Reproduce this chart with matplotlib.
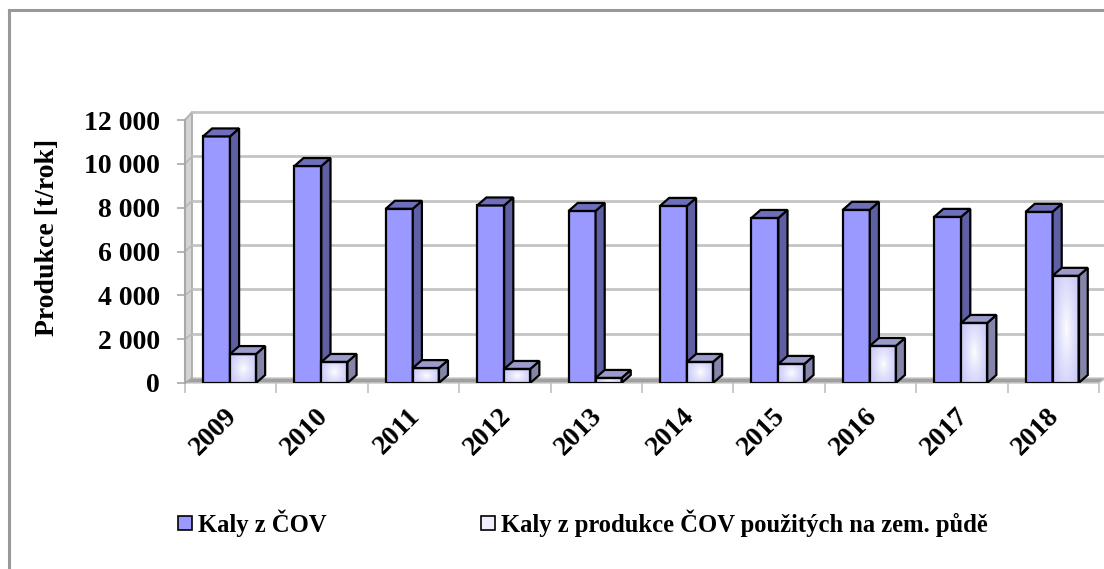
import matplotlib.pyplot as plt
from matplotlib.patches import Polygon, Rectangle, Patch
from matplotlib.lines import Line2D
import numpy as np

# data
years = ['2009', '2010', '2011', '2012', '2013', '2014', '2015', '2016', '2017', '2018']
kaly_cov = [11250, 9900, 7950, 8100, 7850, 8080, 7530, 7900, 7580, 7810]
kaly_puda = [1320, 960, 680, 640, 230, 960, 870, 1690, 2740, 4890]
y_ticks = [0, 2000, 4000, 6000, 8000, 10000, 12000]
y_tick_labels = ['0', '2 000', '4 000', '6 000', '8 000', '10 000', '12 000']
series_names = ['Kaly z ČOV', 'Kaly z produkce ČOV použitých na zem. půdě']

plt.rcParams['font.family'] = ['Liberation Serif', 'DejaVu Serif']
plt.rcParams['font.weight'] = 'bold'
FS = 20
FS_LEG = 17.7

fig = plt.figure(figsize=(11.04, 5.69), dpi=100)
ax = fig.add_axes([185 / 1104, 186 / 569, 914 / 1104, 263 / 569])
ax.set_xlim(0, len(years))
ax.set_ylim(0, 12000)
for s in ax.spines.values():
    s.set_visible(False)

# 3D look: wall depth and bar depth (data units)
WDX, WDY, WK = 0.077, 228, 1.011
BDX, BDY = 0.1, 365


def back(v):
    return v * WK + WDY


nx = len(years)
# floor
ax.add_patch(Polygon([(0, 0), (nx, 0), (nx + WDX, back(0)), (WDX, back(0))],
                     closed=True, fc='#A0A0A0', ec='#C8C8C8', lw=1, clip_on=False, zorder=1))
# left wall
ax.add_patch(Polygon([(0, 0), (WDX, back(0)), (WDX, back(12000)), (0, 12000)],
                     closed=True, fc='#D4D4D4', ec='#A8A8A8', lw=1.2, clip_on=False, zorder=1))
# gridlines on back wall + wall
for v in y_ticks[1:]:
    ax.plot([WDX, nx + WDX + 0.1], [back(v), back(v)], color='#C4C4C4', lw=2,
            clip_on=False, zorder=1)
    ax.plot([0, WDX], [v, back(v)], color='#B8B8B8', lw=1.2, clip_on=False, zorder=1)
ax.plot([0, 0], [0, 12000], color='#A8A8A8', lw=1.5, clip_on=False, zorder=2)

# gradient image for the light bars
gx = np.linspace(-1, 1, 60)
gy = np.linspace(-1, 1, 120)
GX, GY = np.meshgrid(gx, gy)
r = np.clip(np.sqrt(GX ** 2 + (GY * 0.75) ** 2), 0, 1)
c0 = np.array([1.0, 1.0, 1.0])
c1 = np.array([0.80, 0.80, 0.98])
grad = c0 + (c1 - c0) * r[..., None] ** 0.8


def bar3d(x0, w, h, front, top, side, z, gradient=False):
    if gradient:
        ax.imshow(grad, extent=[x0, x0 + w, 0, h], aspect='auto', zorder=z,
                  interpolation='bilinear')
        ax.add_patch(Rectangle((x0, 0), w, h, fc='none', ec='black', lw=1.6, zorder=z + 0.1))
    else:
        ax.add_patch(Rectangle((x0, 0), w, h, fc=front, ec='black', lw=1.6, zorder=z))
    ax.add_patch(Polygon([(x0 + w, 0), (x0 + w + BDX, BDY), (x0 + w + BDX, h + BDY), (x0 + w, h)],
                         closed=True, fc=side, ec='black', lw=1.6, zorder=z))
    ax.add_patch(Polygon([(x0, h), (x0 + BDX, h + BDY), (x0 + w + BDX, h + BDY), (x0 + w, h)],
                         closed=True, fc=top, ec='black', lw=1.6, zorder=z, clip_on=False))


for i in range(nx):
    bar3d(i + 0.197, 0.295, kaly_cov[i], '#9999FF', '#6E6EBA', '#5F5FA3', 3 + i)
    bar3d(i + 0.492, 0.285, kaly_puda[i], '#E8E8FF', '#9C9CCC', '#8585AA', 3.5 + i, gradient=True)

ax.set_xlim(0, nx)
ax.set_ylim(0, 12000)

# axes ticks
ax.set_yticks(y_ticks, labels=y_tick_labels)
ax.tick_params(axis='y', length=6, width=1.2, color='#A8A8A8', pad=12, labelsize=FS)
ax.set_xticks(range(nx + 1), labels=[''] * (nx + 1))
ax.tick_params(axis='x', which='major', length=7, width=1.2, color='#C0C0C0')
ax.set_xticks(np.arange(nx) + 0.43, labels=years, minor=True)
ax.tick_params(axis='x', which='minor', length=0, pad=15, labelsize=FS)
for lab in ax.get_xticklabels(minor=True):
    lab.set_rotation(45)
    lab.set_ha('right')
    lab.set_va('top')
    lab.set_rotation_mode('anchor')

fig.text(48 / 1104, 1 - 237 / 569, 'Produkce [t/rok]', rotation=90, ha='center', va='center',
         fontsize=FS, fontweight='bold')

handles = [Patch(fc='#9999FF', ec='black', lw=1.2), Patch(fc='#EEEEFF', ec='black', lw=1.2)]
fig.legend(handles, series_names, loc='center', bbox_to_anchor=(583 / 1104, 1 - 523 / 569),
           ncol=2, frameon=False, fontsize=FS_LEG, handlelength=0.55, handleheight=0.55,
           handletextpad=0.25, columnspacing=6.3)

# chart frame (only left and top visible)
fig.add_artist(Line2D([9 / 1104, 9 / 1104], [0, 1 - 10 / 569], color='#999999', lw=2.2))
fig.add_artist(Line2D([9 / 1104, 1], [1 - 10 / 569, 1 - 10 / 569], color='#999999', lw=2.2))

fig.savefig('out.png', dpi=100)
